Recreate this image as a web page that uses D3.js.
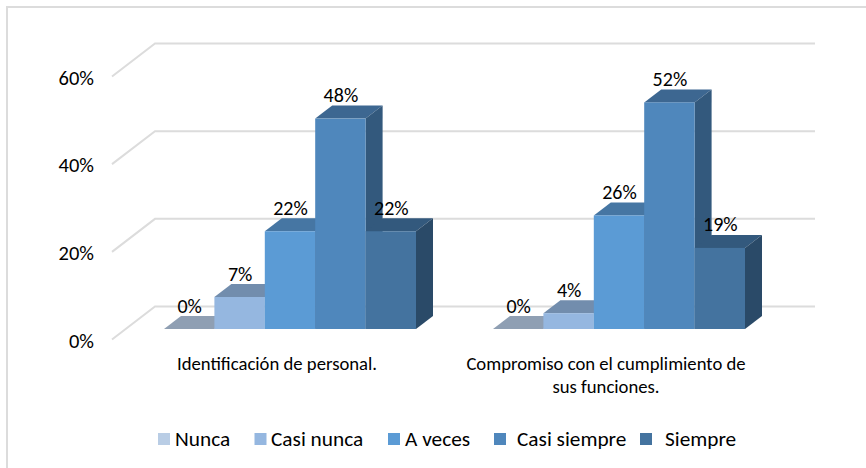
<!DOCTYPE html>
<html><head><meta charset="utf-8">
<script src="https://cdn.jsdelivr.net/npm/d3@7/dist/d3.min.js"></script>
<style>html,body{margin:0;padding:0;background:#fff}svg{display:block}text{font-family:Carlito,Lato,sans-serif;fill:#000}</style>
</head><body><svg id="c" width="866" height="468"></svg>
<script>
const categories = [["Identificación de personal."], ["Compromiso con el cumplimiento de", "sus funciones."]];
const seriesNames = ["Nunca", "Casi nunca", "A veces", "Casi siempre", "Siempre"];
const group1 = [0, 0.073, 0.223, 0.48, 0.223];
const group2 = [0, 0.036, 0.259, 0.517, 0.185];
const axisTicks = [0, 0.2, 0.4, 0.6];
const frontColors = ["#b9cde5", "#95b7e0", "#5b9bd5", "#4f87bc", "#44739f"];
const topColors = ["#8f9fb3", "#728dad", "#4676a3", "#3d6791", "#33597d"];
const sideColors = ["#7f8fa3", "#66809f", "#3f6b95", "#33597d", "#2a4a68"];

const svg = d3.select("#c");
const y = d3.scaleLinear().domain([0, 0.6]).range([329, 66]);
const groupStart = [164, 493], barW = 50.4, dx = 17, dy = -13;
const x = (g, i) => groupStart[g] + i * barW;
const fmt = d3.format(".0%");

svg.append("path").attr("d", "M7,468V7H866").attr("fill", "none")
  .attr("stroke", "#dcdcdc").attr("stroke-width", 2);

axisTicks.forEach(t => {
  const fy = y(t) + 10.5;
  svg.append("polyline")
    .attr("points", `112,${fy} 155,${fy - 33} 815,${fy - 33}`)
    .attr("fill", "none").attr("stroke", "#dcdcdc").attr("stroke-width", 2);
  svg.append("text").attr("x", 94).attr("y", fy + 8).attr("text-anchor", "end")
    .attr("font-size", 20.5).text(fmt(t));
});

[group1, group2].forEach((vals, g) => {
  vals.forEach((v, i) => {
    const x0 = x(g, i), x1 = x0 + barW, yt = y(v), yb = y(0);
    svg.append("path").attr("fill", topColors[i])
      .attr("d", d3.line()([[x0, yt], [x0 + dx, yt + dy], [x1 + dx, yt + dy], [x1, yt]]));
    svg.append("path").attr("fill", sideColors[i])
      .attr("d", d3.line()([[x1, yt], [x1 + dx, yt + dy], [x1 + dx, yb + dy], [x1, yb]]));
    svg.append("rect").attr("x", x0).attr("y", yt).attr("width", barW).attr("height", yb - yt)
      .attr("fill", frontColors[i]);
  });
  vals.forEach((v, i) => {
    svg.append("text").attr("x", x(g, i) + barW / 2 + 0.5).attr("y", y(v) - 16.5)
      .attr("text-anchor", "middle").attr("font-size", 20).text(fmt(v));
  });
});

const labelX = [277, 606];
categories.forEach((lines, g) => lines.forEach((l, k) => {
  svg.append("text").attr("x", labelX[g]).attr("y", 370 + k * 23)
    .attr("text-anchor", "middle").attr("font-size", 18.7).text(l);
}));

const legendX = [158, 254.5, 388, 494, 640];
const legendText = [175, 271, 405, 517, 665];
seriesNames.forEach((n, i) => {
  svg.append("rect").attr("x", legendX[i]).attr("y", 433).attr("width", 12).attr("height", 12).attr("fill", frontColors[i]);
  svg.append("text").attr("x", legendText[i]).attr("y", 446).attr("font-size", 21.3).text(n);
});
</script></body></html>
